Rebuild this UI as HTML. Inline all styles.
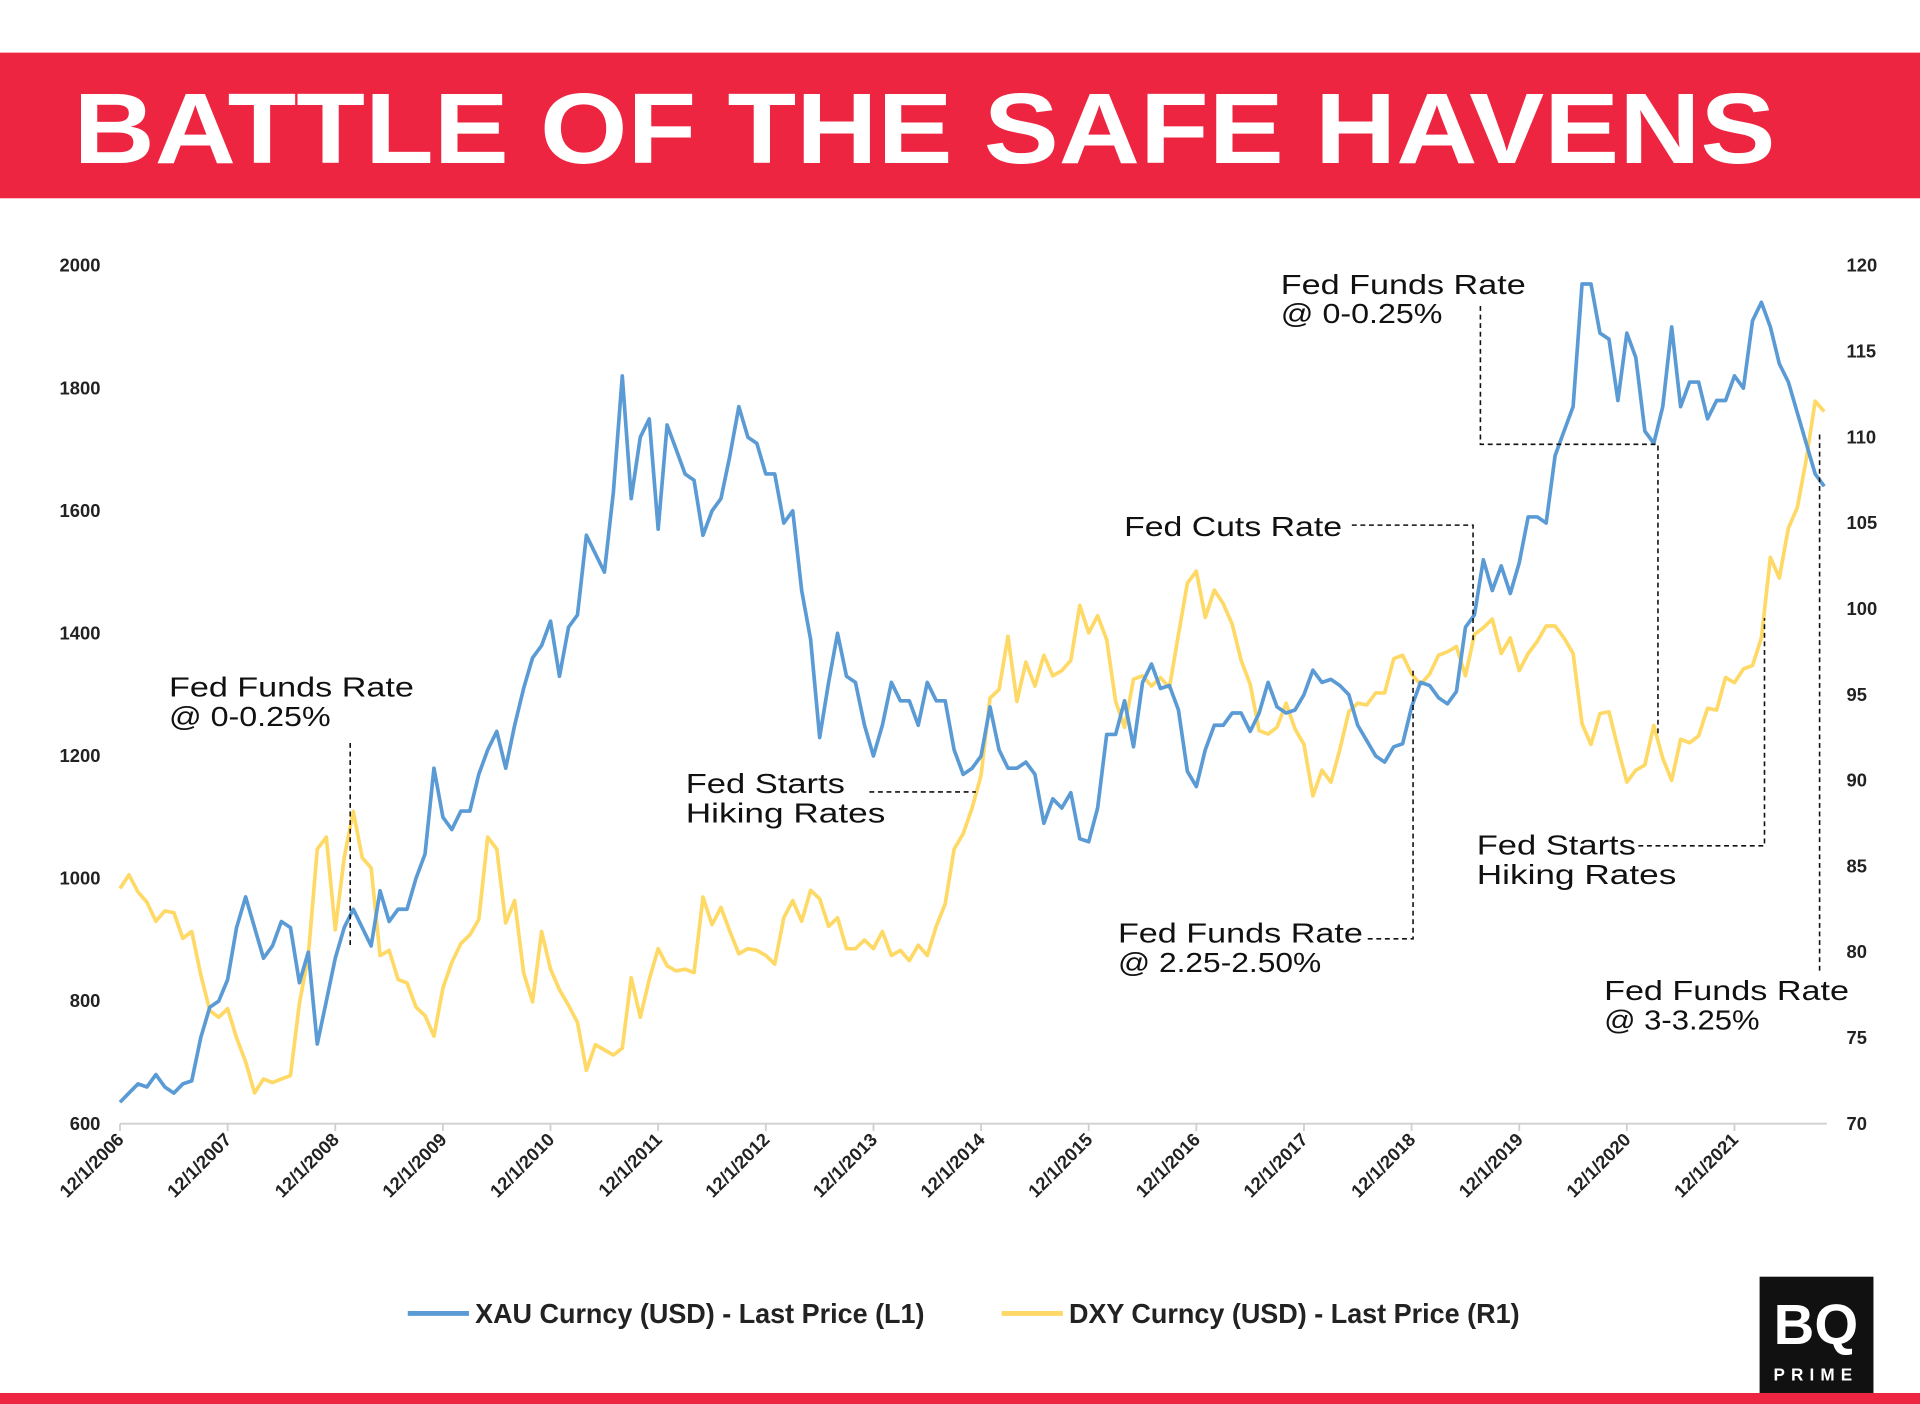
<!DOCTYPE html>
<html><head><meta charset="utf-8"><style>
html,body{margin:0;padding:0;background:#fff;}
svg{display:block;}
text{font-family:"Liberation Sans",sans-serif;}
</style></head><body>
<svg id="chart" width="1920" height="1404" viewBox="0 0 1568 1147" preserveAspectRatio="none" xmlns="http://www.w3.org/2000/svg">
<rect width="1568" height="1147" fill="#fff"/>
<rect x="0" y="43" width="1568" height="119" fill="#ee2540"/>
<text x="60" y="133" font-size="82" font-weight="bold" fill="#fff" textLength="1390" lengthAdjust="spacingAndGlyphs">BATTLE OF THE SAFE HAVENS</text>
<rect x="0" y="1138" width="1568" height="9" fill="#ee2540"/>
<g id="axes"></g>
<g id="series"></g>
<g font-size="23" fill="#111" stroke="none" lengthAdjust="spacingAndGlyphs">
 <text x="138" y="569" textLength="200" lengthAdjust="spacingAndGlyphs">Fed Funds Rate</text><text x="138" y="593" textLength="132" lengthAdjust="spacingAndGlyphs">@ 0-0.25%</text>
 <text x="560" y="648" textLength="130" lengthAdjust="spacingAndGlyphs">Fed Starts</text><text x="560" y="672" textLength="163" lengthAdjust="spacingAndGlyphs">Hiking Rates</text>
 <text x="918" y="438" textLength="178" lengthAdjust="spacingAndGlyphs">Fed Cuts Rate</text>
 <text x="1046" y="240" textLength="200" lengthAdjust="spacingAndGlyphs">Fed Funds Rate</text><text x="1046" y="264" textLength="132" lengthAdjust="spacingAndGlyphs">@ 0-0.25%</text>
 <text x="1206" y="698" textLength="130" lengthAdjust="spacingAndGlyphs">Fed Starts</text><text x="1206" y="722" textLength="163" lengthAdjust="spacingAndGlyphs">Hiking Rates</text>
 <text x="913" y="770" textLength="200" lengthAdjust="spacingAndGlyphs">Fed Funds Rate</text><text x="913" y="794" textLength="166" lengthAdjust="spacingAndGlyphs">@ 2.25-2.50%</text>
 <text x="1310" y="817" textLength="200" lengthAdjust="spacingAndGlyphs">Fed Funds Rate</text><text x="1310" y="841" textLength="127" lengthAdjust="spacingAndGlyphs">@ 3-3.25%</text>
</g>
<g fill="none" stroke="#111" stroke-width="1.3" stroke-dasharray="4,3">
 <path d="M286 607 V775"/>
 <path d="M710 647 H797"/>
 <path d="M1104 429 H1203 V525"/>
 <path d="M1209 250 V363 H1354 V600"/>
 <path d="M1338 691 H1441 V505"/>
 <path d="M1117 767 H1154 V545"/>
 <path d="M1486 355 V795"/>
</g>
<g>
 <line x1="333" y1="1073" x2="383" y2="1073" stroke="#5b9bd5" stroke-width="4"/>
 <text x="388" y="1081" font-size="23" font-weight="bold" fill="#222" textLength="367" lengthAdjust="spacingAndGlyphs">XAU Curncy (USD) - Last Price (L1)</text>
 <line x1="818" y1="1073" x2="868" y2="1073" stroke="#ffd966" stroke-width="4"/>
 <text x="873" y="1081" font-size="23" font-weight="bold" fill="#222" textLength="368" lengthAdjust="spacingAndGlyphs">DXY Curncy (USD) - Last Price (R1)</text>
</g>
<g>
 <rect x="1437" y="1043" width="93" height="95" fill="#111"/>
 <text x="1483" y="1098" font-size="46" font-weight="bold" fill="#fff" text-anchor="middle" font-family="Liberation Serif,serif">BQ</text>
 <text x="1483" y="1128" font-size="14" font-weight="bold" fill="#fff" text-anchor="middle" letter-spacing="5">PRIME</text>
</g>
</svg>
<script>
const leftTicks = [600, 800, 1000, 1200, 1400, 1600, 1800, 2000];
const rightTicks = [70, 75, 80, 85, 90, 95, 100, 105, 110, 115, 120];
const xTickLabels = ["12/1/2006","12/1/2007","12/1/2008","12/1/2009","12/1/2010","12/1/2011","12/1/2012","12/1/2013","12/1/2014","12/1/2015","12/1/2016","12/1/2017","12/1/2018","12/1/2019","12/1/2020","12/1/2021"];
// monthly from Dec 2006
const goldValues = [635,
650,665,660,680,660,650,665,670,740,790,800,835,
920,970,920,870,890,930,920,830,880,730,800,870,
920,950,920,890,980,930,950,950,1000,1040,1180,1100,
1080,1110,1110,1170,1210,1240,1180,1250,1310,1360,1380,1420,
1330,1410,1430,1560,1530,1500,1630,1820,1620,1720,1750,1570,
1740,1700,1660,1650,1560,1600,1620,1690,1770,1720,1710,1660,
1660,1580,1600,1470,1390,1230,1320,1400,1330,1320,1250,1200,
1250,1320,1290,1290,1250,1320,1290,1290,1210,1170,1180,1200,
1280,1210,1180,1180,1190,1170,1090,1130,1115,1140,1065,1060,
1115,1235,1235,1290,1215,1320,1350,1310,1315,1275,1175,1150,
1210,1250,1250,1270,1270,1240,1270,1320,1280,1270,1275,1300,
1340,1320,1325,1315,1300,1250,1225,1200,1190,1215,1220,1280,
1320,1315,1295,1285,1305,1410,1430,1520,1470,1510,1465,1515,
1590,1590,1580,1690,1730,1770,1970,1970,1890,1880,1780,1890,
1850,1730,1710,1770,1900,1770,1810,1810,1750,1780,1780,1820,
1800,1910,1940,1900,1840,1810,1760,1710,1660,1640];
const dxyValues = [83.7,
84.5,83.5,82.9,81.8,82.4,82.3,80.8,81.2,78.7,76.6,76.2,76.7,
75.0,73.6,71.8,72.6,72.4,72.6,72.8,77.0,79.8,86.0,86.7,81.3,
85.5,88.2,85.5,84.9,79.8,80.1,78.4,78.2,76.8,76.3,75.1,77.9,
79.4,80.5,81.0,81.9,86.7,86.0,81.7,83.0,78.8,77.1,81.2,79.0,
77.8,76.9,75.9,73.1,74.6,74.3,74.0,74.4,78.5,76.2,78.4,80.2,
79.2,78.9,79.0,78.8,83.2,81.6,82.6,81.2,79.9,80.2,80.1,79.8,
79.3,82.0,83.0,81.8,83.6,83.1,81.5,82.0,80.2,80.2,80.7,80.2,
81.2,79.8,80.1,79.5,80.4,79.8,81.5,82.8,86.0,86.9,88.4,90.3,
94.8,95.3,98.4,94.6,96.9,95.5,97.3,96.1,96.4,97.0,100.2,98.6,
99.6,98.2,94.6,93.1,95.9,96.1,95.5,96.0,95.4,98.5,101.5,102.2,
99.5,101.1,100.3,99.1,97.0,95.6,92.9,92.7,93.1,94.5,93.0,92.1,
89.1,90.6,89.9,91.8,94.0,94.5,94.4,95.1,95.1,97.1,97.3,96.2,
95.6,96.2,97.3,97.5,97.8,96.1,98.5,98.9,99.4,97.4,98.3,96.4,
97.4,98.1,99.0,99.0,98.3,97.4,93.3,92.1,93.9,94.0,91.9,89.9,
90.6,90.9,93.2,91.3,90.0,92.4,92.2,92.6,94.2,94.1,96.0,95.7,
96.5,96.7,98.3,103.0,101.8,104.7,105.9,108.7,112.1,111.5];

const NS = "http://www.w3.org/2000/svg";
const X0 = 98, YEARW = 87.9, YT = 217, YB = 918;
function xPos(i){ return X0 + i * YEARW / 12; }
function yLeft(v){ return YB - (v - 600) / 1400 * (YB - YT); }
function yRight(v){ return YB - (v - 70) / 50 * (YB - YT); }
function mk(tag, attrs, parent){
  const e = document.createElementNS(NS, tag);
  for (const k in attrs) e.setAttribute(k, attrs[k]);
  parent.appendChild(e); return e;
}
const axes = document.getElementById('axes');
const series = document.getElementById('series');

const xAxis = mk('line', {x1: X0, y1: YB, x2: 1492, y2: YB, stroke: '#d0d0d0', 'stroke-width': 1.5}, axes);



leftTicks.forEach(v => {
  const t = mk('text', {x: 82, y: yLeft(v) + 5, 'text-anchor': 'end', 'font-size': 15, 'font-weight': 'bold', fill: '#222'}, axes);
  t.textContent = v;
  
  
});
rightTicks.forEach(v => {
  const t = mk('text', {x: 1508, y: yRight(v) + 5, 'font-size': 15, 'font-weight': 'bold', fill: '#222'}, axes);
  t.textContent = v;
  
  
});
xTickLabels.forEach((lab, k) => {
  const x = X0 + k * YEARW;
  const tk = mk('line', {x1: x, y1: YB, x2: x, y2: YB + 6, stroke: '#d0d0d0', 'stroke-width': 1.5}, axes);
  
  
  const t = mk('text', {x: x + 4, y: YB + 14, 'text-anchor': 'end', 'font-size': 15, 'font-weight': 'bold', fill: '#222', transform: `rotate(-45 ${x + 4} ${YB + 14})`}, axes);
  t.textContent = lab;
  
  
});

function line(vals, yf){
  return vals.map((v, i) => (i ? 'L' : 'M') + xPos(i).toFixed(1) + ' ' + yf(v).toFixed(1)).join(' ');
}
const dxyPath = mk('path', {d: line(dxyValues, yRight), fill: 'none', stroke: '#ffd966', 'stroke-width': 3, 'stroke-linejoin': 'round'}, series);


const goldPath = mk('path', {d: line(goldValues, yLeft), fill: 'none', stroke: '#5b9bd5', 'stroke-width': 3, 'stroke-linejoin': 'round'}, series);


</script>
</body></html>
